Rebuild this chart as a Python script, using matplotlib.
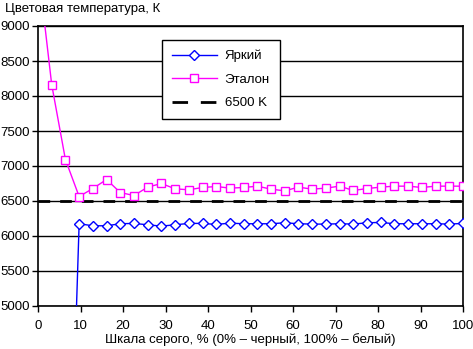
import numpy as np
import matplotlib
matplotlib.use('Agg')
import matplotlib.pyplot as plt
from matplotlib.lines import Line2D

plt.rcParams['font.family'] = ['Liberation Sans', 'DejaVu Sans']
plt.rcParams['font.size'] = 9

# grey scale levels 0..31 -> percent
levels = np.arange(32)
gray_pct = levels * 100.0 / 31

bright = [0, 0, 0, 6175, 6146, 6146, 6175, 6180, 6160, 6141, 6160, 6180, 6180, 6165, 6184,
          6175, 6175, 6175, 6189, 6175, 6170, 6170, 6175, 6170, 6189, 6194, 6175, 6175,
          6175, 6175, 6170, 6180]
etalon = [9850, 8162, 7092, 6564, 6678, 6807, 6621, 6578, 6698, 6750, 6674, 6660, 6693,
          6707, 6684, 6693, 6712, 6669, 6645, 6698, 6669, 6684, 6712, 6650, 6678, 6698,
          6712, 6712, 6693, 6712, 6712, 6712]
target = 6500

fig = plt.figure(figsize=(4.73, 3.49), dpi=100)
ax = fig.add_axes([38 / 473, 43 / 349, 425 / 473, 280 / 349])

l1, = ax.plot(gray_pct, bright, color='#0000FF', lw=1, marker='D', ms=5.2,
              mfc='white', mec='#0000FF', mew=1, label='Яркий', zorder=4)
l2, = ax.plot(gray_pct, etalon, color='#FF00FF', lw=1, marker='s', ms=6,
              mfc='white', mec='#FF00FF', mew=1, label='Эталон', zorder=4)
ax.plot([0, 100], [target, target], color='black', lw=2, ls=(0, (4.2, 3.6)),
        zorder=3)
# legend proxy: two long dashes like the original
l3 = Line2D([], [], color='black', lw=2, ls=(0, (5.6, 4.6)))

ax.set_xlim(0, 100)
ax.set_ylim(5000, 9000)
ax.set_xticks(np.arange(0, 101, 10))
ax.set_yticks(np.arange(5000, 9001, 500))
ax.yaxis.grid(True, color='black', lw=1)
ax.set_axisbelow(True)
ax.tick_params(direction='out', length=4, width=1, color='black', labelsize=9.5)
ax.tick_params(axis='x', pad=6)
ax.tick_params(axis='y', pad=2)
for s in ax.spines.values():
    s.set_color('black')
    s.set_linewidth(1.2)

leg = ax.legend([l1, l2, l3], ['Яркий', 'Эталон', '6500 K'],
                loc='upper left', bbox_to_anchor=(124 / 425, 1 - 14 / 280),
                frameon=True, fancybox=False, edgecolor='black', framealpha=1,
                fontsize=9.5, handlelength=3.4, labelspacing=0.85,
                borderpad=0.75, handletextpad=0.6, borderaxespad=0)
leg.get_frame().set_linewidth(1)

fig.text(5 / 473, 1 - 9 / 349, 'Цветовая температура, К', fontsize=9.5,
         ha='left', va='center')
fig.text(250 / 473, 1 - 340 / 349, 'Шкала серого, % (0% – черный, 100% – белый)',
         fontsize=9.5, ha='center', va='center')

fig.savefig('out.png', dpi=100)
